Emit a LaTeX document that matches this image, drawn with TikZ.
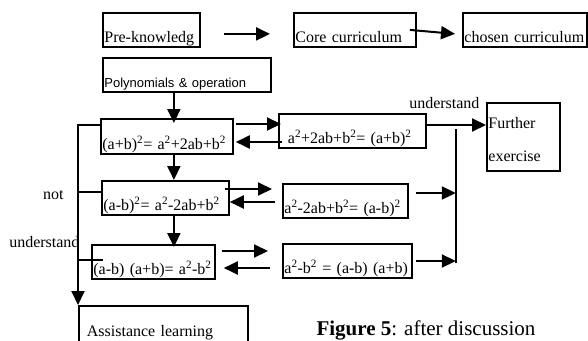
\documentclass[tikz,border=0pt]{standalone}
\usepackage{fontspec}
\setmainfont{Liberation Serif}
\newfontfamily\polyfont{Liberation Sans}
\usetikzlibrary{arrows.meta}
\tikzset{
	box/.style 2 args={draw, line width=1.8pt, anchor=north west,
		inner xsep=1.5pt, inner ysep=1pt, align=left,
		text width=#1, text height=#2, text depth=3pt},
	arr/.style={->, line width=2pt},
	wire/.style={line width=2pt},
}

\begin{document}
\begin{tikzpicture}[x=1pt, y=-1pt, >={Triangle[length=14pt,width=13pt]}, font=\fontsize{16}{19}\selectfont]
\useasboundingbox (0,0) rectangle (588,340);
% the boxes
\node[box={94pt}{29pt}] (pre) at (102,12) {Pre-knowledg};
\node[box={119pt}{29pt}] (core) at (293,12) {Core curriculum};
\node[box={121pt}{29pt}] (chosen) at (462,12) {chosen curriculum};
\node[box={165pt}{29pt}, font=\polyfont\fontsize{13}{16}\selectfont] (poly) at (102,57) {Polynomials \& operation};
\node[box={129pt}{30pt}] (sq1) at (100,118) {(a+b)\textsuperscript{2}= a\textsuperscript{2}+2ab+b\textsuperscript{2}};
\node[box={129pt}{29pt}, inner xsep=9pt] (sq1r) at (278,113) {a\textsuperscript{2}+2ab+b\textsuperscript{2}= (a+b)\textsuperscript{2}};
\node[box={124pt}{29pt}] (sq2) at (101,180) {(a-b)\textsuperscript{2}= a\textsuperscript{2}-2ab+b\textsuperscript{2}};
\node[box={122pt}{29pt}] (sq2r) at (282,183) {a\textsuperscript{2}-2ab+b\textsuperscript{2}= (a-b)\textsuperscript{2}};
\node[box={120pt}{29pt}] (dif) at (91,244) {(a-b) (a+b)= a\textsuperscript{2}-b\textsuperscript{2}};
\node[box={126pt}{29pt}] (difr) at (282,243) {a\textsuperscript{2}-b\textsuperscript{2} = (a-b) (a+b)};
\node[box={70pt}{25pt}, text depth=41pt] (further) at (486,102) {Further\\[14pt]exercise};
\node[box={153pt}{30pt}, inner xsep=8pt, text depth=5pt] (assist) at (78,305) {Assistance learning};

% the arrows
\draw[arr] ([shift={(23,4)}]pre.east) -- ([shift={(-23,4)}]core.west);
\draw[arr] ([xshift=-7pt]core.east) -- ([shift={(-7,4)}]chosen.west);

\coordinate (c1) at ([xshift=-13pt]poly.south);
\draw[arr, shorten >=-5pt] (c1) -- (c1 |- sq1.north);
\draw[arr] (c1 |- sq1.south) -- (c1 |- sq2.north);
\draw[arr, shorten >=-3pt] (c1 |- sq2.south) -- (c1 |- dif.north);

\draw[arr] ([shift={(2,6)}]sq1.north east) -- ([shift={(3,11)}]sq1r.north west);
\draw[arr] ([shift={(4,29)}]sq1r.north west) -- ([shift={(2,24)}]sq1.north east);
\draw[arr] ([shift={(-2,12)}]sq1r.north east) -- ([shift={(0,23)}]further.north west);
\draw[arr] ([shift={(-5,9)}]sq2.north east) -- ([shift={(-10,6)}]sq2r.north west);
\draw[arr] ([shift={(-7,19)}]sq2r.north west) -- ([shift={(0,22)}]sq2.north east);
\draw[arr] ([shift={(6,7)}]dif.north east) -- ([shift={(-14,8)}]difr.north west);
\draw[arr] ([shift={(-12,25)}]difr.north west) -- ([shift={(8,24)}]dif.north east);

% right side
\coordinate (vtop) at ([shift={(29,16)}]sq1r.north east);
\coordinate (r2) at ([shift={(7,10)}]sq2r.north east);
\coordinate (r3) at ([shift={(3,18)}]difr.north east);
\draw[wire, shorten >=-2pt] (vtop) -- (vtop |- r3);
\draw[arr] (r2) -- (r2 -| vtop);
\draw[arr] (r3) -- (r3 -| vtop);

% left side
\coordinate (l1) at ([shift={(0,7)}]sq1.north west);
\coordinate (l2) at ([shift={(0,12)}]sq2.north west);
\coordinate (l3) at ([shift={(12,16)}]dif.north west);
\coordinate (m2) at (l2 -| assist.west);
\coordinate (m3) at (l3 -| assist.west);
\draw[arr] (l1) -| (assist.north west);
\draw[wire] (l2) -- (m2);
\draw[wire] (l3) -- (m3);

% labels
\node[anchor=base east] (und) at ([shift={(-3,6)}]further.north west) {understand};
\node[anchor=base east] (notlbl) at ([shift={(-11,7)}]m2) {not};
\node[anchor=base east] (undlbl) at ([shift={(5,-13)}]m3) {understand};
\node[anchor=base west, font=\fontsize{21}{25}\selectfont] (cap) at (313,335) {\textbf{Figure 5}: after discussion};
\end{tikzpicture}
\end{document}
